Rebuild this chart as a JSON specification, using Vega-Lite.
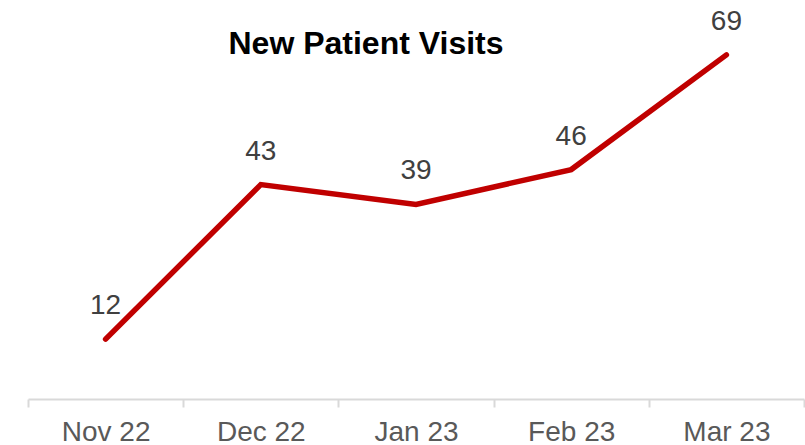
{
  "$schema": "https://vega.github.io/schema/vega-lite/v6.json",
  "width": 776,
  "height": 399,
  "autosize": "none",
  "padding": {"left": 28, "top": 0, "right": 1, "bottom": 46},
  "background": "white",
  "config": {"view": {"stroke": null}, "font": "Liberation Sans"},
  "title": {
    "text": "New Patient Visits",
    "font": "Liberation Sans",
    "fontSize": 32,
    "fontWeight": "bold",
    "color": "#000000",
    "anchor": "middle",
    "frame": "group",
    "orient": "top",
    "baseline": "alphabetic",
    "offset": 0,
    "dx": -50,
    "dy": 86
  },
  "data": {
    "values": [
      {"month": "Nov 22", "visits": 12},
      {"month": "Dec 22", "visits": 43},
      {"month": "Jan 23", "visits": 39},
      {"month": "Feb 23", "visits": 46},
      {"month": "Mar 23", "visits": 69}
    ]
  },
  "encoding": {
    "x": {
      "field": "month",
      "type": "nominal",
      "sort": null,
      "scale": {"type": "band", "paddingInner": 0, "paddingOuter": 0},
      "axis": {
        "title": null,
        "labelAngle": 0,
        "labelFont": "Liberation Sans",
        "labelFontSize": 28,
        "labelColor": "#595959",
        "labelPadding": 11,
        "domainColor": "#d9d9d9",
        "domainWidth": 2,
        "tickColor": "#d9d9d9",
        "tickWidth": 2,
        "tickSize": 8,
        "tickBand": "extent",
        "grid": false
      }
    },
    "y": {
      "field": "visits",
      "type": "quantitative",
      "scale": {"domain": [0, 80], "nice": false},
      "axis": null
    }
  },
  "layer": [
    {
      "mark": {"type": "line", "color": "#C00000", "strokeWidth": 5.5, "strokeCap": "round", "strokeJoin": "miter"}
    },
    {
      "mark": {"type": "text", "font": "Liberation Sans", "fontSize": 28, "color": "#404040", "baseline": "alphabetic", "dy": -25},
      "encoding": {"text": {"field": "visits", "type": "quantitative"}}
    }
  ]
}
